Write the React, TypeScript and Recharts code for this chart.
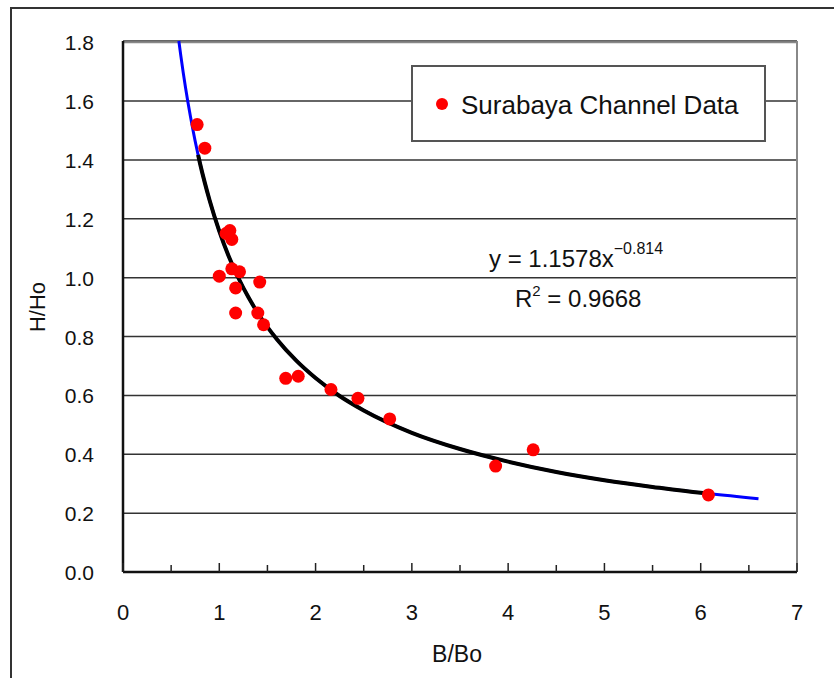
import { ComposedChart, Line, Scatter, XAxis, YAxis, CartesianGrid, ReferenceLine, Legend } from 'recharts'

// observed points (B/Bo, H/Ho)
const obsX = [0.77, 0.85, 1.07, 1.11, 1.13, 1.0, 1.13, 1.21, 1.42, 1.17, 1.17, 1.4, 1.46, 1.69, 1.82, 2.16, 2.44, 2.77, 3.87, 4.26, 6.08]
const obsY = [1.52, 1.44, 1.15, 1.16, 1.13, 1.005, 1.03, 1.02, 0.985, 0.965, 0.88, 0.88, 0.84, 0.658, 0.665, 0.62, 0.59, 0.52, 0.36, 0.415, 0.262]

// power fit y = 1.1578x^-0.814
const fitX = [0.58, 0.6, 0.65, 0.7, 0.75, 0.78, 0.8, 0.85, 0.9, 1.0, 1.1, 1.2, 1.3, 1.4, 1.6, 1.8, 2.0, 2.25, 2.5, 3.0, 3.5, 4.0, 4.5, 5.0, 5.5, 6.0, 6.1, 6.6]
const fitY = [1.804, 1.755, 1.644, 1.548, 1.463, 1.417, 1.388, 1.322, 1.262, 1.158, 1.071, 0.998, 0.935, 0.88, 0.79, 0.718, 0.659, 0.598, 0.549, 0.473, 0.418, 0.375, 0.34, 0.312, 0.289, 0.269, 0.266, 0.249]

const xTicks = [0, 0.5, 1, 1.5, 2, 2.5, 3, 3.5, 4, 4.5, 5, 5.5, 6, 6.5, 7]
const yTicks = [0, 0.2, 0.4, 0.6, 0.8, 1.0, 1.2, 1.4, 1.6, 1.8]

const points = obsX.map((x, i) => ({ x, y: obsY[i] }))
const blueCurve = fitX.map((x, i) => ({ x, y: fitY[i] }))
const blackCurve = blueCurve.filter(d => d.x >= 0.78 && d.x <= 6.1)

const font = "'Liberation Sans', Arial, sans-serif"

const XTick = (props: any) => {
  const { x, y, payload } = props
  const axisY = y - 2
  const v = payload.value
  const major = Number.isInteger(v)
  return (
    <g>
      <line x1={x} x2={x} y1={axisY} y2={axisY - (major ? 9 : 7)} stroke="#222" strokeWidth={1.5} />
      {major && (
        <text x={x} y={axisY + 48} textAnchor="middle" fontSize={22} fontFamily={font} fill="#111">
          {v}
        </text>
      )}
    </g>
  )
}

const YTick = (props: any) => {
  const { y, payload } = props
  return (
    <text x={94} y={y + 8} textAnchor="end" fontSize={21} fontFamily={font} fill="#111">
      {payload.value.toFixed(1)}
    </text>
  )
}

const Dot = (props: any) => <circle cx={props.cx} cy={props.cy} r={6.5} fill="#ff0000" />

const LegendBox = () => (
  <div style={{ width: 351, height: 73, border: '2px solid #555', background: '#fff', position: 'relative', fontFamily: font }}>
    <svg width={351} height={73} style={{ position: 'absolute', left: 0, top: 0 }}>
      <circle cx={29} cy={37} r={6} fill="#ff0000" />
      <text x={48} y={47} fontSize={26} fill="#111" fontFamily={font}>Surabaya Channel Data</text>
    </svg>
  </div>
)

export default function App() {
  return (
    <div style={{ position: 'absolute', left: 0, top: 0, width: 834, height: 678, background: '#fff', overflow: 'hidden' }}>
      <div style={{ position: 'absolute', left: 10, top: 7, width: 830, height: 680, borderTop: '2px solid #333', borderLeft: '2px solid #333' }} />
      <ComposedChart width={834} height={678} margin={{ top: 41, right: 37, bottom: 66, left: 63 }} style={{ position: 'absolute', left: 0, top: 0 }}>
        <CartesianGrid horizontal vertical={false} stroke="#333" strokeWidth={1.5} />
        <XAxis
          dataKey="x"
          type="number"
          domain={[0, 7]}
          ticks={xTicks}
          height={40}
          tickSize={0}
          tickMargin={2}
          tick={<XTick />}
          axisLine={{ stroke: '#111', strokeWidth: 2.5 }}
          tickLine={false}
          interval={0}
        />
        <YAxis
          dataKey="y"
          type="number"
          domain={[0, 1.8]}
          ticks={yTicks}
          width={60}
          tick={<YTick />}
          tickLine={false}
          axisLine={{ stroke: '#111', strokeWidth: 2.5 }}
          interval={0}
        />
        <ReferenceLine y={1.8} stroke="#888" strokeWidth={2} />
        <ReferenceLine x={7} stroke="#888" strokeWidth={2} />
        <Legend
          layout="horizontal"
          verticalAlign="middle"
          align="center"
          content={<LegendBox />}
          wrapperStyle={{ position: 'absolute', left: 411, top: 65, width: 355, height: 77 }}
        />
        <Scatter name="Surabaya Channel Data" data={points} dataKey="y" fill="#ff0000" shape={<Dot />} isAnimationActive={false} />
        <Line data={blueCurve} dataKey="y" type="monotone" stroke="#0000ff" strokeWidth={3} dot={false} isAnimationActive={false} legendType="none" />
        <Line data={blackCurve} dataKey="y" type="monotone" stroke="#000" strokeWidth={4} dot={false} isAnimationActive={false} legendType="none" />
      </ComposedChart>
      <svg width={834} height={678} style={{ position: 'absolute', left: 0, top: 0, pointerEvents: 'none' }}>
        <text x={489} y={267} fontSize={24} fontFamily={font} fill="#111">
          y = 1.1578x<tspan dy={-13} fontSize={16}>−0.814</tspan>
        </text>
        <text x={515} y={307} fontSize={24} fontFamily={font} fill="#111">
          R<tspan dy={-11} fontSize={15}>2</tspan><tspan dy={11}> = 0.9668</tspan>
        </text>
        <text x={457} y={662} textAnchor="middle" fontSize={23} fontFamily={font} fill="#111">B/Bo</text>
        <text x={45} y={307} textAnchor="middle" fontSize={22} fontFamily={font} fill="#111" transform="rotate(-90 45 307)">H/Ho</text>
      </svg>
    </div>
  )
}
